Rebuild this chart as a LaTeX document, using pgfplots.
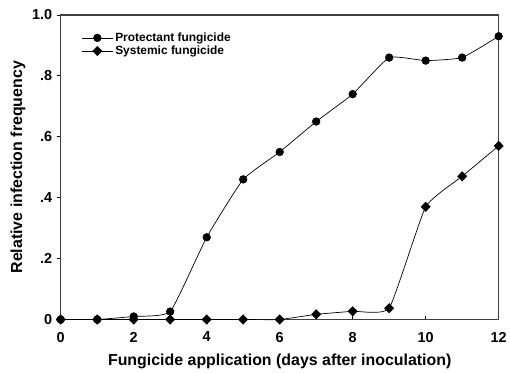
\documentclass[border=0pt]{standalone}
\usepackage{fontspec}
\setmainfont{Liberation Sans}
\usepackage{pgfplots}
\pgfplotsset{compat=1.18}
\begin{document}
\begin{tikzpicture}
\begin{axis}[
  scale only axis,
  width=440pt, height=306pt,
  xmin=0, xmax=12, ymin=0, ymax=1.0,
  xtick={0,2,4,6,8,10,12},
  ytick={0,0.2,0.4,0.6,0.8,1.0},
  yticklabels={0,.2,.4,.6,.8,1.0},
  x tick style={black, line width=0.8pt},
  y tick style={black, line width=0.8pt},
  xtick pos=bottom, ytick pos=left,
  xtick align=inside, ytick align=outside,
  major tick length=4pt,
  axis line style={black!75, line width=1.2pt},
  tick label style={font=\bfseries\fontsize{14.5}{16}\selectfont},
  xticklabel style={yshift=-9pt},
  yticklabel style={xshift=-1pt},
  /pgf/number format/assume math mode=true,
  xlabel={\bfseries Fungicide application (days after inoculation)},
  ylabel={\bfseries Relative infection frequency},
  label style={font=\bfseries\fontsize{16}{18}\selectfont},
  xlabel style={yshift=-5pt},
  ylabel style={yshift=0pt},
  clip=false,
  legend style={at={(0.04,0.955)}, anchor=north west, draw=none, fill=none,
    font=\bfseries\fontsize{12}{14}\selectfont, row sep=-1pt},
  legend image code/.code={%
    \draw[mark repeat=2,mark phase=2,#1]
      plot coordinates {(0cm,0cm) (0.55cm,0cm) (1.1cm,0cm)};},
  legend cell align=left,
]
\addplot[black, line width=0.7pt, mark=*, mark size=3.8pt, smooth, tension=0.25]
  coordinates {(0,0) (1,0) (2,0.01) (3,0.026) (4,0.27) (5,0.46) (6,0.55)
               (7,0.65) (8,0.74) (9,0.86) (10,0.85) (11,0.86) (12,0.93)};
\addlegendentry{Protectant fungicide}
\addplot[black, line width=0.7pt, mark=diamond*, mark size=4.6pt,
  mark options={xscale=1.3}, smooth, tension=0.25]
  coordinates {(0,0) (1,0) (2,0) (3,0) (4,0) (5,0) (6,0)
               (7,0.017) (8,0.027) (9,0.037) (10,0.37) (11,0.47) (12,0.57)};
\addlegendentry{Systemic fungicide}
\end{axis}
\path (current axis.south west) ++(-61pt,-49pt) rectangle ++(510pt,370pt);
\end{tikzpicture}
\end{document}
